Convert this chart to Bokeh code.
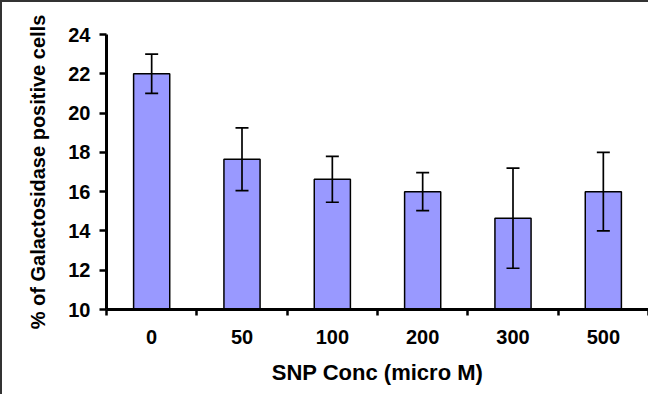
from bokeh.plotting import figure
from bokeh.models import ColumnDataSource, FixedTicker, Whisker, TeeHead, Range1d
from bokeh.embed import file_html
from bokeh.resources import INLINE

categories = ["0", "50", "100", "200", "300", "500"]
means = [22.0, 17.65, 16.63, 16.0, 14.65, 16.0]
errors = [1.0, 1.6, 1.17, 0.97, 2.55, 2.0]
y_ticks = [10, 12, 14, 16, 18, 20, 22, 24]

xpos = [i + 0.5 for i in range(len(categories))]
src = ColumnDataSource(dict(
    x=xpos, top=means,
    upper=[m + e for m, e in zip(means, errors)],
    lower=[m - e for m, e in zip(means, errors)],
))

FONT = "Liberation Sans"

p = figure(width=648, height=394, output_backend="svg", toolbar_location=None,
           x_range=Range1d(0, len(categories)), y_range=Range1d(10, 24),
           min_border_left=104, min_border_right=2, min_border_top=32, min_border_bottom=87)
p.styles = {"border-top": "2px solid #333333", "border-left": "2px solid #333333"}
p.outline_line_color = None
p.grid.grid_line_color = None

p.vbar(x="x", top="top", bottom=10, width=0.4, source=src,
       fill_color="#9999FF", line_color="black", line_width=1.5)
p.add_layout(Whisker(source=src, base="x", upper="upper", lower="lower", level="annotation",
                     line_color="black", line_width=1.7,
                     upper_head=TeeHead(size=13, line_color="black", line_width=1.7),
                     lower_head=TeeHead(size=13, line_color="black", line_width=1.7)))

ya = p.yaxis[0]
ya.ticker = FixedTicker(ticks=y_ticks, minor_ticks=[])
ya.axis_line_width = 3
ya.major_tick_line_width = 2.5
ya.major_tick_out = 7
ya.major_tick_in = 0
ya.major_label_standoff = 9
ya.major_label_text_font = FONT
ya.major_label_text_font_style = "bold"
ya.major_label_text_font_size = "20px"
ya.major_label_text_color = "black"
ya.axis_label = "% of Galactosidase positive cells"
ya.axis_label_text_font = FONT
ya.axis_label_text_font_style = "bold"
ya.axis_label_text_font_size = "20px"
ya.axis_label_text_color = "black"
ya.axis_label_standoff = 16

xa = p.xaxis[0]
xa.ticker = FixedTicker(ticks=xpos, minor_ticks=list(range(len(categories) + 1)))
xa.major_label_overrides = {x: c for x, c in zip(xpos, categories)}
xa.axis_line_width = 3
xa.major_tick_line_color = None
xa.minor_tick_line_width = 2.5
xa.minor_tick_line_color = "black"
xa.minor_tick_out = 6
xa.minor_tick_in = 0
xa.major_tick_out = 6
xa.major_tick_in = 0
xa.major_label_standoff = 14
xa.major_label_text_font = FONT
xa.major_label_text_font_style = "bold"
xa.major_label_text_font_size = "20px"
xa.major_label_text_color = "black"
xa.axis_label = "SNP Conc (micro M)"
xa.axis_label_text_font = FONT
xa.axis_label_text_font_style = "bold"
xa.axis_label_text_font_size = "22px"
xa.axis_label_text_color = "black"
xa.axis_label_standoff = 13

open("out.html", "w").write(file_html(p, INLINE))
